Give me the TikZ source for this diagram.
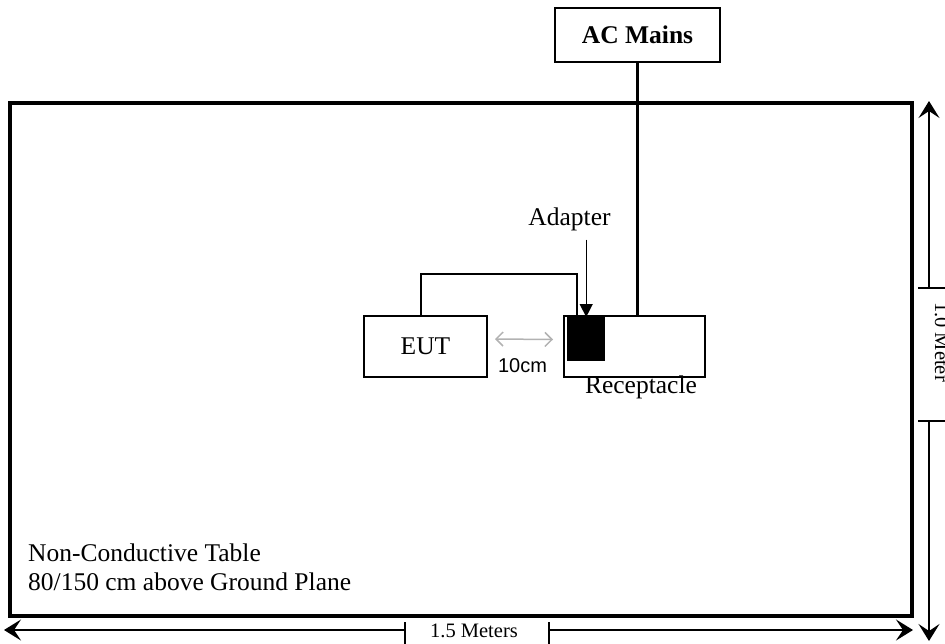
\documentclass[tikz,border=0pt]{standalone}
\usepackage{fontspec}
\setmainfont{Liberation Serif}
\newfontfamily\arialfont{Liberation Sans}
\usetikzlibrary{arrows.meta}

\tikzset{
  unitbox/.style={draw, line width=2pt, minimum width=#1, minimum height=61pt},
  cord/.style={line width=3.8pt},
  cable/.style={line width=1.8pt},
  dimline/.style={line width=1.5pt},
  dimtip/.style={-{Stealth[length=17pt,width=21pt,inset=7pt]}},
  gaparrow/.style={draw=gray!60, line width=1.5pt,
    {Straight Barb[length=7pt,width=14pt]}-{Straight Barb[length=7pt,width=14pt]}},
  dimtext/.style={font=\fontsize{20.5}{24}\selectfont}
}

\begin{document}
\begin{tikzpicture}[x=1pt,y=-1pt, font=\fontsize{25.5}{29}\selectfont]
  \tikzstyle{every node}+=[inner sep=0pt]
  \useasboundingbox (0,0) rectangle (945,643);

  % table
  \draw [line width=3.8pt] (10,103) rectangle (912,616);
  \node [anchor=base west] (tblone) at (28,561) {Non-Conductive Table};
  \node [anchor=base west] (tbltwo) at (28,590) {80/150 cm above Ground Plane};

  % boxes
  \node [draw, line width=1.3pt, minimum width=165pt, minimum height=54pt] (mains) at (637.5,35) {};
  \node [anchor=base, font=\fontsize{25.5}{29}\selectfont\bfseries] (mainstext) at (637.5,43) {AC Mains};
  \node [unitbox=123pt] (eut) at (425.5,346) {};
  \node [anchor=base] (euttext) at (425.5,354) {EUT};
  \node [unitbox=141pt] (recept) at (634.5,346.5) {};
  \node [anchor=base] (recepttext) at (641,393) {Receptacle};
  \node [fill=black, minimum width=38pt, minimum height=44pt, anchor=north west] (plug) at (567,317) {};

  % cords
  \draw [cord] (mains.south) -- (mains.south |- recept.north);
  \coordinate (cablebend) at (577,274);
  \draw [cable] ([xshift=-4.5pt]eut.north) |- (cablebend) -- (cablebend |- recept.north);

  % adapter
  \node [anchor=base] (adaptlbl) at (569.5,225) {Adapter};
  \draw [line width=1.3pt, -{Triangle[length=13pt,width=13pt]}] ([yshift=-9pt]adaptlbl.south -| plug.north) -- (plug.north);

  % separation
  \draw [gaparrow] ([xshift=7pt,yshift=7pt]eut.east) -- ([xshift=-10pt,yshift=7pt]recept.west);
  \node [anchor=base, font=\fontsize{20}{24}\selectfont\arialfont] (gaptext) at (522.5,372) {10cm};

  % width
  \coordinate (wleft) at (4,630);
  \coordinate (wright) at (913,630);
  \node [dimtext, anchor=base] (wlabel) at (474,637) {1.5 Meters};
  \coordinate (wtickl) at (405,630);
  \coordinate (wtickr) at (549,630);
  \draw [dimline, dimtip] (wtickl) -- (wleft);
  \draw [dimline, dimtip] (wtickr) -- (wright);
  \draw [dimline] ([yshift=8pt]wtickl) -- ++(0,22) ([yshift=8pt]wtickr) -- ++(0,22);

  % height
  \coordinate (htop) at (929,101);
  \coordinate (hbot) at (929,641);
  \coordinate (htickt) at (929,288);
  \coordinate (htickb) at (929,421);
  \draw [dimline, dimtip] (htickt) -- (htop);
  \draw [dimline, dimtip] (htickb) -- (hbot);
  \draw [dimline] ([xshift=-11pt]htickt) -- ++(28,0) ([xshift=-11pt]htickb) -- ++(28,0);
  \node [dimtext, rotate=-90, anchor=base] (hlabel) at (935,342) {1.0 Meter};
\end{tikzpicture}
\end{document}
